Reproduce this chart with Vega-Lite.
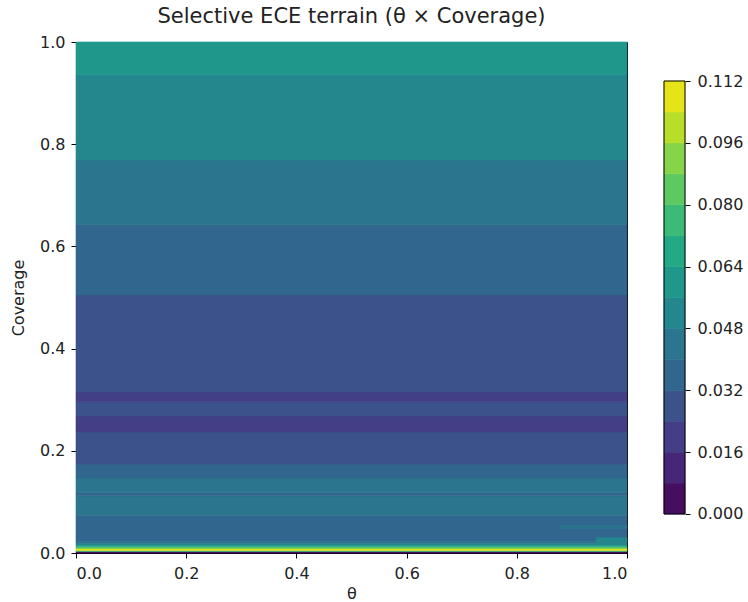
{
  "$schema": "https://vega.github.io/schema/vega-lite/v6.json",
  "background": "white",
  "padding": {"left": 10, "top": 5, "right": 5, "bottom": 0},
  "config": {
    "font": "DejaVu Sans",
    "view": {"stroke": "black", "strokeWidth": 1},
    "axis": {
      "labelFont": "DejaVu Sans", "labelFontSize": 16, "labelColor": "#222",
      "titleFont": "DejaVu Sans", "titleFontSize": 16, "titleFontWeight": "normal", "titleColor": "#222",
      "domainColor": "black", "tickColor": "black", "tickSize": 5, "grid": false, "labelPadding": 6
    }
  },
  "datasets": {
    "bands": [
      {"theta0": 0, "theta1": 1, "cov0": 0.0, "cov1": 0.003, "ece": 0.004},
      {"theta0": 0, "theta1": 1, "cov0": 0.003, "cov1": 0.005, "ece": 0.076},
      {"theta0": 0, "theta1": 1, "cov0": 0.005, "cov1": 0.009, "ece": 0.108},
      {"theta0": 0, "theta1": 1, "cov0": 0.009, "cov1": 0.012, "ece": 0.084},
      {"theta0": 0, "theta1": 1, "cov0": 0.012, "cov1": 0.015, "ece": 0.068},
      {"theta0": 0, "theta1": 1, "cov0": 0.015, "cov1": 0.019, "ece": 0.052},
      {"theta0": 0, "theta1": 1, "cov0": 0.019, "cov1": 0.022, "ece": 0.044},
      {"theta0": 0, "theta1": 1, "cov0": 0.022, "cov1": 0.074, "ece": 0.036},
      {"theta0": 0, "theta1": 1, "cov0": 0.074, "cov1": 0.112, "ece": 0.044},
      {"theta0": 0, "theta1": 1, "cov0": 0.112, "cov1": 0.118, "ece": 0.036},
      {"theta0": 0, "theta1": 1, "cov0": 0.118, "cov1": 0.147, "ece": 0.044},
      {"theta0": 0, "theta1": 1, "cov0": 0.147, "cov1": 0.174, "ece": 0.036},
      {"theta0": 0, "theta1": 1, "cov0": 0.174, "cov1": 0.237, "ece": 0.028},
      {"theta0": 0, "theta1": 1, "cov0": 0.237, "cov1": 0.268, "ece": 0.020},
      {"theta0": 0, "theta1": 1, "cov0": 0.268, "cov1": 0.296, "ece": 0.028},
      {"theta0": 0, "theta1": 1, "cov0": 0.296, "cov1": 0.315, "ece": 0.020},
      {"theta0": 0, "theta1": 1, "cov0": 0.315, "cov1": 0.505, "ece": 0.028},
      {"theta0": 0, "theta1": 1, "cov0": 0.505, "cov1": 0.643, "ece": 0.036},
      {"theta0": 0, "theta1": 1, "cov0": 0.643, "cov1": 0.769, "ece": 0.044},
      {"theta0": 0, "theta1": 1, "cov0": 0.769, "cov1": 0.937, "ece": 0.052},
      {"theta0": 0, "theta1": 1, "cov0": 0.937, "cov1": 1.0, "ece": 0.060},
      {"theta0": 0.877, "theta1": 1, "cov0": 0.048, "cov1": 0.054, "ece": 0.044},
      {"theta0": 0.944, "theta1": 1, "cov0": 0.019, "cov1": 0.03, "ece": 0.052}
    ],
    "levels": [
      {"lo": 0.000, "hi": 0.008, "ece": 0.004},
      {"lo": 0.008, "hi": 0.016, "ece": 0.012},
      {"lo": 0.016, "hi": 0.024, "ece": 0.020},
      {"lo": 0.024, "hi": 0.032, "ece": 0.028},
      {"lo": 0.032, "hi": 0.040, "ece": 0.036},
      {"lo": 0.040, "hi": 0.048, "ece": 0.044},
      {"lo": 0.048, "hi": 0.056, "ece": 0.052},
      {"lo": 0.056, "hi": 0.064, "ece": 0.060},
      {"lo": 0.064, "hi": 0.072, "ece": 0.068},
      {"lo": 0.072, "hi": 0.080, "ece": 0.076},
      {"lo": 0.080, "hi": 0.088, "ece": 0.084},
      {"lo": 0.088, "hi": 0.096, "ece": 0.092},
      {"lo": 0.096, "hi": 0.104, "ece": 0.100},
      {"lo": 0.104, "hi": 0.112, "ece": 0.108}
    ],
    "outline": [
      {"lo": 0.0, "hi": 0.112}
    ]
  },
  "spacing": 35,
  "resolve": {"scale": {"color": "shared"}},
  "hconcat": [
    {
      "width": 551,
      "height": 511,
      "title": {"text": "Selective ECE terrain (θ × Coverage)", "fontSize": 21, "fontWeight": "normal", "font": "DejaVu Sans", "color": "#222", "offset": 7},
      "data": {"name": "bands"},
      "mark": {"type": "rect", "strokeWidth": 0.6},
      "encoding": {
        "x": {"field": "theta0", "type": "quantitative", "scale": {"domain": [0, 1], "nice": false, "zero": false},
              "axis": {"values": [0, 0.2, 0.4, 0.6, 0.8, 1], "format": ".1f", "title": "θ", "titlePadding": 4, "labelPadding": 7}},
        "x2": {"field": "theta1"},
        "y": {"field": "cov0", "type": "quantitative", "scale": {"domain": [0, 1], "nice": false, "zero": false},
              "axis": {"values": [0, 0.2, 0.4, 0.6, 0.8, 1], "format": ".1f", "title": "Coverage", "titlePadding": 13}},
        "y2": {"field": "cov1"},
        "color": {"field": "ece", "type": "quantitative",
                  "scale": {"type": "threshold", "domain": [0.008, 0.016, 0.024, 0.032, 0.04, 0.048, 0.056, 0.064, 0.072, 0.08, 0.088, 0.096, 0.104],
                            "range": ["#450e60", "#482677", "#433e85", "#3b528b", "#31668e", "#2b758e", "#24878e", "#1f988b", "#23a983", "#3bbb75", "#5ec962", "#86d549", "#b8de29", "#e5e419"]},
                  "legend": null},
        "stroke": {"field": "ece", "type": "quantitative",
                  "scale": {"type": "threshold", "domain": [0.008, 0.016, 0.024, 0.032, 0.04, 0.048, 0.056, 0.064, 0.072, 0.08, 0.088, 0.096, 0.104],
                            "range": ["#450e60", "#482677", "#433e85", "#3b528b", "#31668e", "#2b758e", "#24878e", "#1f988b", "#23a983", "#3bbb75", "#5ec962", "#86d549", "#b8de29", "#e5e419"]},
                  "legend": null}
      }
    },
    {
      "width": 21,
      "height": 511,
      "view": {"stroke": null},
      "layer": [
        {
          "data": {"name": "levels"},
          "mark": {"type": "rect", "strokeWidth": 0.6},
          "encoding": {
            "y": {"field": "lo", "type": "quantitative", "scale": {"domain": [-0.01009, 0.12209], "nice": false, "zero": false},
                  "axis": {"orient": "right", "values": [0, 0.016, 0.032, 0.048, 0.064, 0.08, 0.096, 0.112], "format": ".3f", "domain": false, "title": null, "labelPadding": 7}},
            "y2": {"field": "hi"},
            "color": {"field": "ece", "type": "quantitative",
                  "scale": {"type": "threshold", "domain": [0.008, 0.016, 0.024, 0.032, 0.04, 0.048, 0.056, 0.064, 0.072, 0.08, 0.088, 0.096, 0.104],
                            "range": ["#450e60", "#482677", "#433e85", "#3b528b", "#31668e", "#2b758e", "#24878e", "#1f988b", "#23a983", "#3bbb75", "#5ec962", "#86d549", "#b8de29", "#e5e419"]},
                  "legend": null},
            "stroke": {"field": "ece", "type": "quantitative",
                  "scale": {"type": "threshold", "domain": [0.008, 0.016, 0.024, 0.032, 0.04, 0.048, 0.056, 0.064, 0.072, 0.08, 0.088, 0.096, 0.104],
                            "range": ["#450e60", "#482677", "#433e85", "#3b528b", "#31668e", "#2b758e", "#24878e", "#1f988b", "#23a983", "#3bbb75", "#5ec962", "#86d549", "#b8de29", "#e5e419"]},
                  "legend": null}
          }
        },
        {
          "data": {"name": "outline"},
          "mark": {"type": "rect", "fill": null, "stroke": "black", "strokeWidth": 1},
          "encoding": {
            "y": {"field": "lo", "type": "quantitative"},
            "y2": {"field": "hi"}
          }
        }
      ]
    }
  ]
}
